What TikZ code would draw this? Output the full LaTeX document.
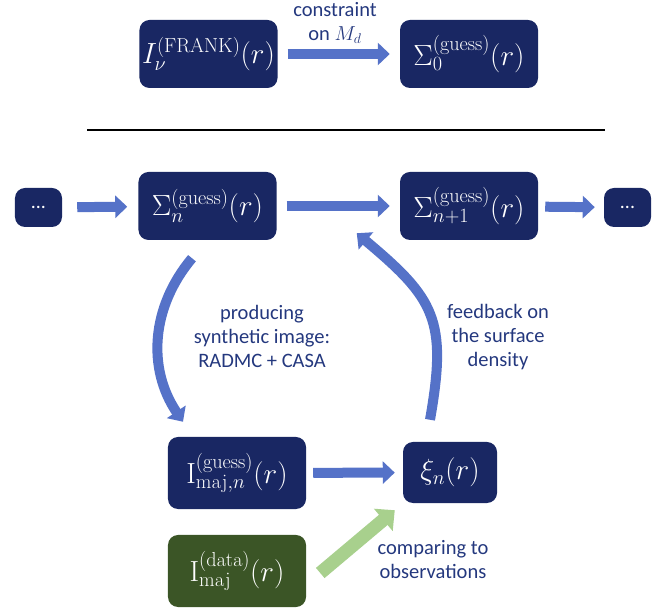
\documentclass[tikz,border=0pt]{standalone}
\usepackage[no-math]{fontspec}
\setmainfont{Carlito}
\usetikzlibrary{arrows.meta,calc}
\definecolor{boxblau}{HTML}{192763}
\definecolor{boxgruen}{HTML}{3B5526}
\definecolor{pfeilblau}{HTML}{5572C8}
\definecolor{pfeilgruen}{HTML}{A8D08D}
\definecolor{textblau}{HTML}{24387E}
\begin{document}
\begin{tikzpicture}[x=0.03cm,y=0.03cm,
                        kasten/.style={rounded corners=0.3cm, fill=boxblau, text=white,
                          minimum width=4.14cm, minimum height=2.04cm, inner sep=0pt,
                          font=\fontsize{24}{28}\selectfont},
                        punkte/.style={kasten, minimum width=1.41cm, minimum height=1.17cm,
                          font=\fontsize{17}{20}\selectfont},
                        pfeil/.style={draw=pfeilblau, line width=0.3cm,
                          -{Triangle[length=0.36cm,width=0.66cm]}},
                        beschr/.style={text=textblau, align=center,
                          font=\fontsize{17.5}{20.5}\selectfont},
                        ]
                        \useasboundingbox (0,0) rectangle (665,610);
                        %Obere Zeile
                        \node [kasten] (frank) at (208.5,556) {$I_\nu^{(\mathrm{FRANK})}(r)$};
                        \node [kasten] (sigzero) at (469,556) {$\Sigma_0^{(\mathrm{guess})}(r)$};
                        \draw [pfeil, shorten <=0.3cm, shorten >=0.3cm] (frank) -- (sigzero);
                        \node [beschr] (constr) at (335,587) {constraint\\on $M_d$};
                        %Trennlinie
                        \coordinate (linksende) at (87,480);
                        \coordinate (rechtsende) at (605,480);
                        \draw [line width=2.5pt] (linksende) -- (rechtsende);
                        %Iteration
                        \node [punkte] (dotsl) at (38.5,402.5) {...};
                        \node [kasten] (sign) at (207.5,404) {$\Sigma_n^{(\mathrm{guess})}(r)$};
                        \node [kasten] (signext) at (469,404) {$\Sigma_{n+1}^{(\mathrm{guess})}(r)$};
                        \node [punkte] (dotsr) at (627.5,402.5) {...};
                        \draw [pfeil, shorten <=0.45cm, shorten >=0.33cm] (dotsl) -- (sign);
                        \draw [pfeil, shorten <=0.3cm, shorten >=0.3cm] (sign) -- (signext);
                        \draw [pfeil, shorten <=0.21cm, shorten >=0.27cm] (signext) -- (dotsr);
                        %Unten
                        \node [kasten, minimum height=2.16cm] (imod) at (237,137) {$\mathrm{I}_{\mathrm{maj},n}^{(\mathrm{guess})}(r)$};
                        \node [kasten, minimum width=2.82cm, minimum height=1.83cm] (xi) at (450,137.5) {$\xi_n(r)$};
                        \node [kasten, fill=boxgruen, minimum height=2.16cm] (idata) at (237,39) {$\mathrm{I}_{\mathrm{maj}}^{(\mathrm{data})}(r)$};
                        \draw [pfeil, shorten <=0.21cm, shorten >=0.24cm] (imod) -- (xi);
                        \draw [pfeil, draw=pfeilgruen, line width=0.4cm,
                          -{Triangle[length=0.45cm,width=0.85cm]}]
                          ($(idata.east)+(14,-2)$) -- ($(xi.south west)+(-8,-7)$);
                        %Gebogene Pfeile
                        \draw [pfeil] ($(sign.south)+(-15.5,-18)$) to [out=230, in=124]
                          ($(imod.north)+(-54,15)$);
                        \draw [pfeil] ($(xi.north)+(-20,22)$) to [out=80, in=-40, looseness=1.3]
                          ($(signext.south west)+(-43,7)$);
                        %Beschriftung
                        \node [beschr] (prod) at (262,274) {producing\\synthetic image:\\RADMC + CASA};
                        \node [beschr] (feed) at (498,273) {feedback on\\the surface\\density};
                        \node [beschr] (comp) at (433,50) {comparing to\\observations};
                \end{tikzpicture}
\end{document}
